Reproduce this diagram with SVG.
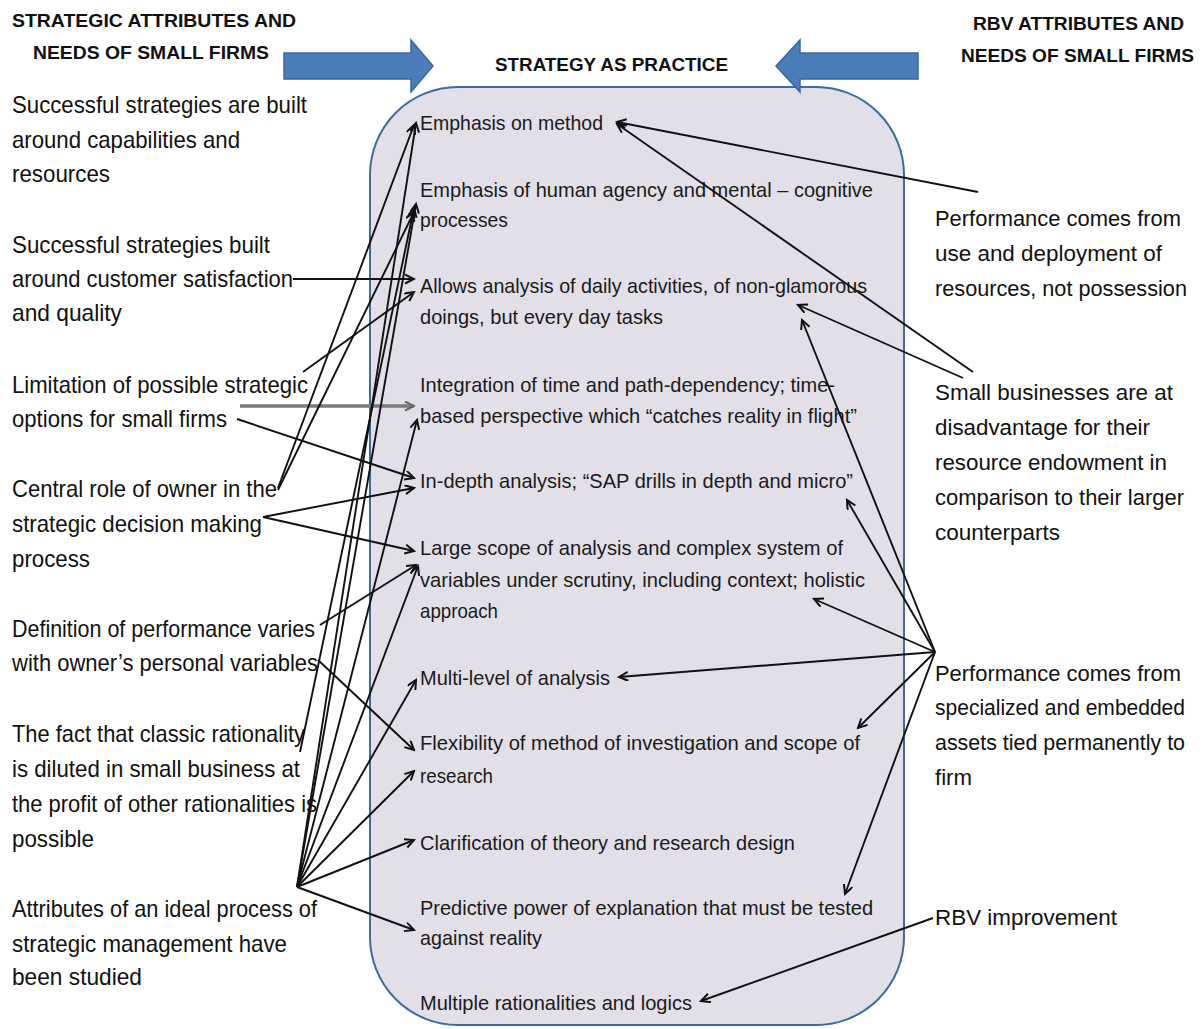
<svg xmlns="http://www.w3.org/2000/svg" width="1204" height="1029" viewBox="0 0 1204 1029">
<style>
.hd{font-family:"Liberation Sans",Arial,sans-serif;font-weight:bold;font-size:19px;fill:#111}
.lt{font-family:"Liberation Sans",Arial,sans-serif;font-size:24px;fill:#111}
.rt{font-family:"Liberation Sans",Arial,sans-serif;font-size:22px;fill:#111}
.ct{font-family:"Liberation Sans",Arial,sans-serif;font-size:21px;fill:#1a1a1a}
.con{stroke:#111;stroke-width:1.9;fill:none;marker-end:url(#ah)}
.gray{stroke:#7a7a7a;stroke-width:3.5;fill:none;marker-end:url(#ahg)}
.big{fill:#4a7dba;stroke:#3a6797;stroke-width:1.5}
</style>
<defs>
<marker id="ah" markerUnits="userSpaceOnUse" markerWidth="12" markerHeight="12" refX="10" refY="5" orient="auto">
<path d="M1,0.5 L10,5 L1,9.5" fill="none" stroke="#111" stroke-width="2"/>
</marker>
<marker id="ahg" markerUnits="userSpaceOnUse" markerWidth="12" markerHeight="12" refX="10" refY="5" orient="auto">
<path d="M1,0.5 L10,5 L1,9.5" fill="none" stroke="#666" stroke-width="2"/>
</marker>
</defs>
<rect width="1204" height="1029" fill="#fff"/>

<g id="practice-box">
<rect x="370" y="87" width="534" height="938" rx="88" ry="88" fill="#e2dfe9" stroke="#3d6b9c" stroke-width="2"/>
</g>

<g id="arrow-left">
<path class="big" d="M284,53 L411,53 L411,40 L433,66 L411,92 L411,79 L284,79 Z"/>
</g>
<g id="arrow-right">
<path class="big" d="M918,53 L800,53 L800,40 L776,66 L800,92 L800,79 L918,79 Z"/>
</g>

<g id="header-left">
<text class="hd" x="12" y="27" textLength="284" lengthAdjust="spacingAndGlyphs">STRATEGIC ATTRIBUTES AND</text>
<text class="hd" x="33" y="59" textLength="236" lengthAdjust="spacingAndGlyphs">NEEDS OF SMALL FIRMS</text>
</g>
<g id="header-center">
<text class="hd" x="495" y="71" textLength="233" lengthAdjust="spacingAndGlyphs">STRATEGY AS PRACTICE</text>
</g>
<g id="header-right">
<text class="hd" x="973" y="30" textLength="211" lengthAdjust="spacingAndGlyphs">RBV ATTRIBUTES AND</text>
<text class="hd" x="961" y="62" textLength="233" lengthAdjust="spacingAndGlyphs">NEEDS OF SMALL FIRMS</text>
</g>

<g id="left-1">
<text class="lt" x="12" y="113" textLength="295" lengthAdjust="spacingAndGlyphs">Successful strategies are built</text>
<text class="lt" x="12" y="148" textLength="228" lengthAdjust="spacingAndGlyphs">around capabilities and</text>
<text class="lt" x="12" y="182" textLength="98" lengthAdjust="spacingAndGlyphs">resources</text>
</g>
<g id="left-2">
<text class="lt" x="12" y="253" textLength="258" lengthAdjust="spacingAndGlyphs">Successful strategies built</text>
<text class="lt" x="12" y="287" textLength="281" lengthAdjust="spacingAndGlyphs">around customer satisfaction</text>
<text class="lt" x="12" y="321" textLength="110" lengthAdjust="spacingAndGlyphs">and quality</text>
</g>
<g id="left-3">
<text class="lt" x="12" y="393" textLength="296" lengthAdjust="spacingAndGlyphs">Limitation of possible strategic</text>
<text class="lt" x="12" y="427" textLength="215" lengthAdjust="spacingAndGlyphs">options for small firms</text>
</g>
<g id="left-4">
<text class="lt" x="12" y="497" textLength="265" lengthAdjust="spacingAndGlyphs">Central role of owner in the</text>
<text class="lt" x="12" y="532" textLength="250" lengthAdjust="spacingAndGlyphs">strategic decision making</text>
<text class="lt" x="12" y="567" textLength="78" lengthAdjust="spacingAndGlyphs">process</text>
</g>
<g id="left-5">
<text class="lt" x="12" y="637" textLength="303" lengthAdjust="spacingAndGlyphs">Definition of performance varies</text>
<text class="lt" x="12" y="671" textLength="306" lengthAdjust="spacingAndGlyphs">with owner’s personal variables</text>
</g>
<g id="left-6">
<text class="lt" x="12" y="742" textLength="293" lengthAdjust="spacingAndGlyphs">The fact that classic rationality</text>
<text class="lt" x="12" y="777" textLength="288" lengthAdjust="spacingAndGlyphs">is diluted in small business at</text>
<text class="lt" x="12" y="812" textLength="305" lengthAdjust="spacingAndGlyphs">the profit of other rationalities is</text>
<text class="lt" x="12" y="847" textLength="82" lengthAdjust="spacingAndGlyphs">possible</text>
</g>
<g id="left-7">
<text class="lt" x="12" y="917" textLength="305" lengthAdjust="spacingAndGlyphs">Attributes of an ideal process of</text>
<text class="lt" x="12" y="952" textLength="275" lengthAdjust="spacingAndGlyphs">strategic management have</text>
<text class="lt" x="12" y="985" textLength="130" lengthAdjust="spacingAndGlyphs">been studied</text>
</g>

<g id="center-1">
<text class="ct" x="420" y="130" textLength="183" lengthAdjust="spacingAndGlyphs">Emphasis on method</text>
</g>
<g id="center-2">
<text class="ct" x="420" y="197" textLength="453" lengthAdjust="spacingAndGlyphs">Emphasis of human agency and mental – cognitive</text>
<text class="ct" x="420" y="227" textLength="88" lengthAdjust="spacingAndGlyphs">processes</text>
</g>
<g id="center-3">
<text class="ct" x="420" y="293" textLength="447" lengthAdjust="spacingAndGlyphs">Allows analysis of daily activities, of non-glamorous</text>
<text class="ct" x="420" y="324" textLength="243" lengthAdjust="spacingAndGlyphs">doings, but every day tasks</text>
</g>
<g id="center-4">
<text class="ct" x="420" y="392" textLength="415" lengthAdjust="spacingAndGlyphs">Integration of time and path-dependency;  time-</text>
<text class="ct" x="420" y="423" textLength="437" lengthAdjust="spacingAndGlyphs">based perspective which “catches reality in flight”</text>
</g>
<g id="center-5">
<text class="ct" x="420" y="488" textLength="433" lengthAdjust="spacingAndGlyphs">In-depth analysis; “SAP drills in depth and micro”</text>
</g>
<g id="center-6">
<text class="ct" x="420" y="555" textLength="423" lengthAdjust="spacingAndGlyphs">Large scope of analysis and complex system of</text>
<text class="ct" x="420" y="587" textLength="445" lengthAdjust="spacingAndGlyphs">variables under scrutiny, including context; holistic</text>
<text class="ct" x="420" y="618" textLength="78" lengthAdjust="spacingAndGlyphs">approach</text>
</g>
<g id="center-7">
<text class="ct" x="420" y="685" textLength="190" lengthAdjust="spacingAndGlyphs">Multi-level of analysis</text>
</g>
<g id="center-8">
<text class="ct" x="420" y="750" textLength="440" lengthAdjust="spacingAndGlyphs">Flexibility of method of investigation and scope of</text>
<text class="ct" x="420" y="783" textLength="73" lengthAdjust="spacingAndGlyphs">research</text>
</g>
<g id="center-9">
<text class="ct" x="420" y="850" textLength="375" lengthAdjust="spacingAndGlyphs">Clarification of theory and research design</text>
</g>
<g id="center-10">
<text class="ct" x="420" y="915" textLength="453" lengthAdjust="spacingAndGlyphs">Predictive power of explanation that must be tested</text>
<text class="ct" x="420" y="945" textLength="122" lengthAdjust="spacingAndGlyphs">against reality</text>
</g>
<g id="center-11">
<text class="ct" x="420" y="1010" textLength="272" lengthAdjust="spacingAndGlyphs">Multiple rationalities and logics</text>
</g>

<g id="right-1">
<text class="rt" x="935" y="226" textLength="246" lengthAdjust="spacingAndGlyphs">Performance comes from</text>
<text class="rt" x="935" y="261" textLength="227" lengthAdjust="spacingAndGlyphs">use and deployment of</text>
<text class="rt" x="935" y="296" textLength="252" lengthAdjust="spacingAndGlyphs">resources, not possession</text>
</g>
<g id="right-2">
<text class="rt" x="935" y="400" textLength="238" lengthAdjust="spacingAndGlyphs">Small businesses are at</text>
<text class="rt" x="935" y="435" textLength="215" lengthAdjust="spacingAndGlyphs">disadvantage for their</text>
<text class="rt" x="935" y="470" textLength="232" lengthAdjust="spacingAndGlyphs">resource endowment in</text>
<text class="rt" x="935" y="505" textLength="249" lengthAdjust="spacingAndGlyphs">comparison to their larger</text>
<text class="rt" x="935" y="540" textLength="125" lengthAdjust="spacingAndGlyphs">counterparts</text>
</g>
<g id="right-3">
<text class="rt" x="935" y="681" textLength="246" lengthAdjust="spacingAndGlyphs">Performance comes from</text>
<text class="rt" x="935" y="715" textLength="250" lengthAdjust="spacingAndGlyphs">specialized and embedded</text>
<text class="rt" x="935" y="750" textLength="250" lengthAdjust="spacingAndGlyphs">assets tied permanently to</text>
<text class="rt" x="935" y="785" textLength="37" lengthAdjust="spacingAndGlyphs">firm</text>
</g>
<g id="right-4">
<text class="rt" x="935" y="925" textLength="182" lengthAdjust="spacingAndGlyphs">RBV improvement</text>
</g>

<g id="connectors">
<line class="con" x1="293" y1="279" x2="414" y2="279"/>
<line class="gray" x1="240" y1="406" x2="414" y2="406"/>
<line class="con" x1="237" y1="419" x2="414" y2="478"/>
<line class="con" x1="303" y1="372" x2="414" y2="292"/>
<line class="con" x1="278" y1="488" x2="414" y2="125"/>
<line class="con" x1="278" y1="490" x2="414" y2="212"/>
<line class="con" x1="263" y1="517" x2="414" y2="488"/>
<line class="con" x1="263" y1="517" x2="414" y2="551"/>
<line class="con" x1="320" y1="625" x2="416" y2="565"/>
<line class="con" x1="318" y1="660" x2="414" y2="750"/>
<line class="con" x1="300" y1="752" x2="414" y2="208"/>
<line class="con" x1="297" y1="887" x2="416" y2="123"/>
<line class="con" x1="297" y1="887" x2="416" y2="204"/>
<line class="con" x1="297" y1="887" x2="417" y2="420"/>
<line class="con" x1="297" y1="887" x2="418" y2="566"/>
<line class="con" x1="297" y1="887" x2="416" y2="680"/>
<line class="con" x1="297" y1="887" x2="414" y2="771"/>
<line class="con" x1="297" y1="887" x2="414" y2="840"/>
<line class="con" x1="297" y1="887" x2="414" y2="930"/>
<line class="con" x1="978" y1="192" x2="617" y2="122"/>
<line class="con" x1="973" y1="372" x2="617" y2="124"/>
<line class="con" x1="963" y1="378" x2="798" y2="305"/>
<line class="con" x1="935" y1="652" x2="802" y2="320"/>
<line class="con" x1="935" y1="652" x2="847" y2="500"/>
<line class="con" x1="935" y1="652" x2="814" y2="599"/>
<line class="con" x1="935" y1="652" x2="619" y2="677"/>
<line class="con" x1="935" y1="652" x2="858" y2="728"/>
<line class="con" x1="935" y1="652" x2="845" y2="894"/>
<line class="con" x1="933" y1="918" x2="701" y2="1001"/>
</g>
</svg>
